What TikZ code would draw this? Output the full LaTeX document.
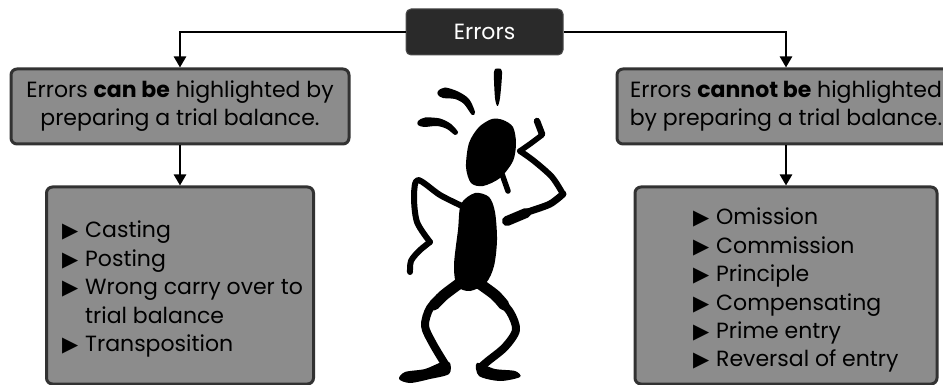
\documentclass[tikz,border=0pt]{standalone}
\usepackage{fontspec}
\setmainfont{Poppins}
\newfontfamily\symfont{DejaVu Sans}
\usetikzlibrary{arrows.meta}

\definecolor{boxgray}{RGB}{140,140,140}
\definecolor{boxedge}{RGB}{50,50,50}
\definecolor{headfill}{RGB}{42,42,42}

% bullet and hanging indent for the list lines
\newcommand{\bul}{\makebox[23pt][l]{\raisebox{0pt}{\symfont\fontsize{21}{21}\selectfont ▶}}}
\newcommand{\nobul}{\makebox[23pt][l]{}}

\tikzset{
  headnode/.style={draw=black!70, line width=1pt, fill=headfill, rounded corners=5pt,
    text=white, minimum width=157pt, minimum height=46pt, inner sep=0pt,
    font=\fontsize{22}{26}\selectfont},
  groupbox/.style={draw=boxedge, line width=3pt, fill=boxgray, rounded corners=6pt,
    minimum width=338pt, minimum height=75pt, inner sep=0pt, align=center,
    font=\fontsize{22}{28}\selectfont},
  listbox/.style={draw=boxedge, line width=3pt, fill=boxgray, rounded corners=6pt,
    minimum height=197pt, inner sep=0pt},
  listtext/.style={inner sep=0pt, align=left, anchor=north west,
    font=\fontsize{22}{28.4}\selectfont},
  conn/.style={line width=2.5pt, -{Triangle[width=12pt,length=11pt]}},
  ink/.style={fill=black, draw=none},
  limb/.style={draw=black, line cap=round, line join=round},
}

\begin{document}
\begin{tikzpicture}[x=1pt, y=-1pt]
\useasboundingbox (0,0) rectangle (943,385);
\clip (0,0) rectangle (943,385);

% boxes
\node[headnode] (top) at (484.5,32) {Errors};
\node[groupbox] (can) at (180,106.5)
  {Errors \textbf{can be} highlighted by\\preparing a trial balance.};
\node[groupbox] (cannot) at (786,106.5)
  {Errors \textbf{cannot be} highlighted\\by preparing a trial balance.};
\node[listbox, minimum width=267pt] (canlist) at (180,285.5) {};
\node[listbox, minimum width=302pt] (cannotlist) at (786,285.5) {};

% list contents
\node[listtext] (canitems) at (62,221) {%
  \bul Casting\\
  \bul Posting\\
  \bul Wrong carry over to\\
  \nobul trial balance\\
  \bul Transposition};
\node[listtext] (cannotitems) at (693,208) {%
  \bul Omission\\
  \bul Commission\\
  \bul Principle\\
  \bul Compensating\\
  \bul Prime entry\\
  \bul Reversal of entry};

% connectors
\draw[conn] (top.west) -| (can.north);
\draw[conn] (top.east) -| (cannot.north);
\draw[conn] (can.south) -- (canlist.north);
\draw[conn] (cannot.south) -- (cannotlist.north);

% the puzzled little man
% exclamation stroke and worry marks
\fill[ink] plot[smooth cycle] coordinates {(494,72) (498,68.5) (502,72) (500,98) (497.5,106) (495,98)};
\fill[ink] plot[smooth cycle] coordinates {(438,91) (445,87.5) (458,91.5) (469,99) (475,112) (472,115) (464,104) (455,99) (443,98) (438,95)};
\fill[ink] plot[smooth cycle] coordinates {(418,121) (425,117.5) (440,118.5) (451,124) (458,132) (455,135) (447,129) (437,126) (424,127) (418,125)};
% head and chin
\fill[ink] plot[smooth cycle] coordinates {(492,119) (503,120) (513,127) (516,143) (513,161) (500,178) (483,186) (471,183) (466,167) (469,143) (479,127)};
\draw[limb, line width=5.5pt] (502,174) -- (508,191);
% raised arm with hand at the head
\draw[limb, line width=6.5pt] plot[smooth] coordinates {(537,121) (542,134)};
\draw[limb, line width=5.5pt] (542,135) -- (530,144) -- (520,151);
\draw[limb, line width=6pt] plot[smooth] coordinates {(520,151) (534,161) (552,177) (563,194)};
\draw[limb, line width=7pt] plot[smooth] coordinates {(563,194) (550,204) (528,212) (507,220)};
\draw[limb, line width=10pt] (526,213) -- (507,221);
% other arm
\draw[limb, line width=6pt] plot[smooth] coordinates {(462,206) (440,195) (418,180) (414,196) (417,222) (430,242)};
\draw[limb, line width=6pt] plot[smooth] coordinates {(430,242) (419,251) (411,261) (410,272)};
% body
\fill[ink] plot[smooth cycle] coordinates {(475,193) (489,197) (495,212) (497,240) (494,266) (486,283) (470,291) (457,286) (454,265) (458,230) (461,204)};
% legs
\draw[limb, line width=11pt] plot[smooth] coordinates {(460,283) (444,295) (434,305)};
\draw[limb, line width=8pt] plot[smooth] coordinates {(444,295) (430,308) (425,326) (433,344) (445,364)};
\draw[limb, line width=11pt] plot[smooth] coordinates {(480,284) (495,295) (504,305)};
\draw[limb, line width=8pt] plot[smooth] coordinates {(495,295) (510,312) (516,330) (505,347) (488,361) (481,367)};
% feet
\fill[ink] plot[smooth cycle] coordinates {(450,363) (449,374) (430,379) (410,383) (399,379) (405,372) (425,369) (442,362)};
\fill[ink] plot[smooth cycle] coordinates {(477,363) (495,369) (515,371) (520,377) (500,381) (479,376)};
\end{tikzpicture}
\end{document}
